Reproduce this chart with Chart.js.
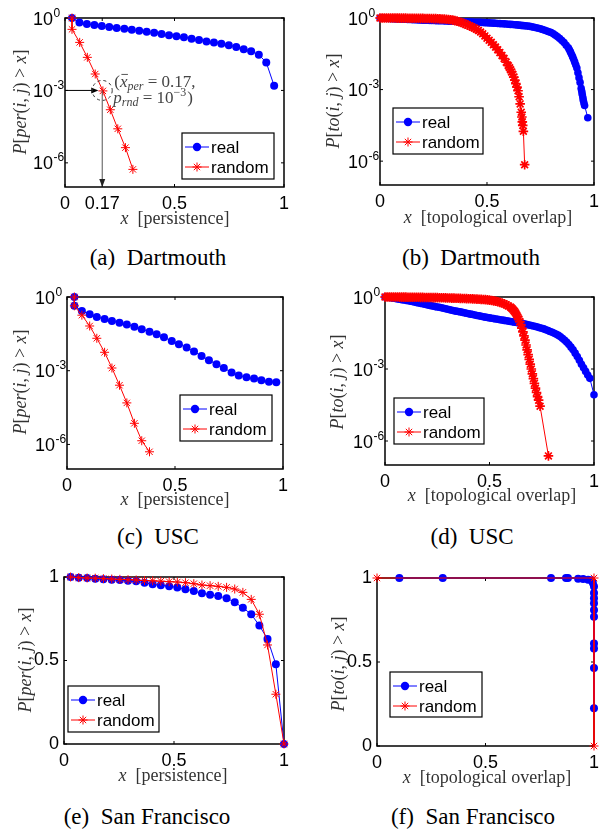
<!DOCTYPE html>
<html><head><meta charset="utf-8">
<script src="https://cdn.jsdelivr.net/npm/chart.js@4/dist/chart.umd.min.js"></script>
<style>
html,body{margin:0;padding:0;background:#fff;}
body{width:605px;height:830px;position:relative;overflow:hidden;}
canvas{position:absolute;}
.cap{position:absolute;font-family:'Liberation Serif',serif;font-size:23px;color:#000;transform:translate(-50%,-50%);white-space:nowrap;}
.xt{position:absolute;font-family:'Liberation Serif',serif;font-size:18px;color:#333;transform:translate(-50%,-50%);white-space:nowrap;}
.yt{position:absolute;font-family:'Liberation Serif',serif;font-size:18px;color:#333;transform:translate(-50%,-50%) rotate(-90deg);white-space:nowrap;}
</style></head>
<body>
<canvas id="ca" width="300" height="230" style="left:0;top:0"></canvas>
<canvas id="cb" width="305" height="230" style="left:300px;top:0"></canvas>
<canvas id="cc" width="300" height="230" style="left:0;top:280px"></canvas>
<canvas id="cd" width="305" height="230" style="left:300px;top:280px"></canvas>
<canvas id="ce" width="300" height="230" style="left:0;top:560px"></canvas>
<canvas id="cf" width="305" height="230" style="left:300px;top:560px"></canvas>

<div class="yt" style="left:20px;top:102px"><i>P</i>[<i>per</i>(<i>i</i>, <i>j</i>) &gt; <i>x</i>]</div>
<div class="yt" style="left:333px;top:101px"><i>P</i>[<i>to</i>(<i>i</i>, <i>j</i>) &gt; <i>x</i>]</div>
<div class="yt" style="left:20px;top:382px"><i>P</i>[<i>per</i>(<i>i</i>, <i>j</i>) &gt; <i>x</i>]</div>
<div class="yt" style="left:337px;top:382px"><i>P</i>[<i>to</i>(<i>i</i>, <i>j</i>) &gt; <i>x</i>]</div>
<div class="yt" style="left:25px;top:660px"><i>P</i>[<i>per</i>(<i>i</i>, <i>j</i>) &gt; <i>x</i>]</div>
<div class="yt" style="left:338px;top:664px"><i>P</i>[<i>to</i>(<i>i</i>, <i>j</i>) &gt; <i>x</i>]</div>

<div class="xt" style="left:175px;top:218px"><i>x</i>&nbsp; [persistence]</div>
<div class="xt" style="left:488px;top:217px"><i>x</i>&nbsp; [topological overlap]</div>
<div class="xt" style="left:175px;top:499px"><i>x</i>&nbsp; [persistence]</div>
<div class="xt" style="left:492px;top:495px"><i>x</i>&nbsp; [topological overlap]</div>
<div class="xt" style="left:173px;top:775px"><i>x</i>&nbsp; [persistence]</div>
<div class="xt" style="left:487px;top:777px"><i>x</i>&nbsp; [topological overlap]</div>

<div class="cap" style="left:158px;top:258px">(a)&nbsp; Dartmouth</div>
<div class="cap" style="left:471px;top:258px">(b)&nbsp; Dartmouth</div>
<div class="cap" style="left:158px;top:537px">(c)&nbsp; USC</div>
<div class="cap" style="left:472px;top:537px">(d)&nbsp; USC</div>
<div class="cap" style="left:147px;top:817px">(e)&nbsp; San Francisco</div>
<div class="cap" style="left:473px;top:817px">(f)&nbsp; San Francisco</div>

<script>
// ---------- tick labels ----------
const xTicksA = [0, 0.17, 0.5, 1];
const xTickLabelsA = ['0', '0.17', '0.5', '1'];
const xTicks = [0, 0.5, 1];
const xTickLabels = ['0', '0.5', '1'];
const logTicks = [1e-6, 1e-3, 1];
const logTickBase = '10';
const logTickExp = ['-6', '-3', '0'];
const linTicks = [0, 0.5, 1];
const linTickLabels = ['0', '0.5', '1'];
const seriesNames = ['real', 'random'];

// ---------- (a) Dartmouth, persistence (y as log10 P) ----------
const aRealX = [0.032,0.066,0.100,0.134,0.168,0.202,0.236,0.271,0.305,0.339,0.373,0.407,0.441,0.475,0.509,0.543,0.578,0.612,0.646,0.680,0.714,0.748,0.782,0.816,0.850,0.885,0.919,0.955];
const aRealLog10 = [0,-0.19,-0.25,-0.29,-0.33,-0.37,-0.41,-0.45,-0.49,-0.53,-0.57,-0.61,-0.66,-0.71,-0.76,-0.80,-0.86,-0.91,-0.97,-1.01,-1.07,-1.13,-1.20,-1.29,-1.38,-1.52,-1.84,-2.81];
const aRandX = [0.032,0.032,0.067,0.102,0.138,0.173,0.207,0.241,0.276,0.310];
const aRandLog10 = [0,-0.47,-1.01,-1.63,-2.32,-3.02,-3.80,-4.59,-5.37,-6.27];
const aMarkX = 0.17;
const aMarkP = 1e-3;

// ---------- (b) Dartmouth, topological overlap ----------
const bRealX = [0,0.01,0.02,0.03,0.04,0.05,0.06,0.07,0.08,0.09,0.10,0.11,0.12,0.13,0.14,0.15,0.16,0.17,0.18,0.19,0.20,0.21,0.22,0.23,0.24,0.25,0.26,0.27,0.28,0.29,0.30,0.31,0.32,0.33,0.34,0.35,0.36,0.37,0.38,0.39,0.40,0.41,0.42,0.43,0.44,0.45,0.46,0.47,0.48,0.49,0.50,0.51,0.52,0.53,0.54,0.55,0.56,0.57,0.58,0.59,0.60,0.61,0.62,0.63,0.64,0.65,0.66,0.67,0.68,0.69,0.70,0.71,0.72,0.73,0.74,0.75,0.76,0.77,0.78,0.79,0.80,0.81,0.82,0.83,0.84,0.85,0.86,0.87,0.88,0.885,0.89,0.895,0.90,0.905,0.91,0.915,0.92,0.925,0.93,0.935,0.94,0.943,0.945,0.948,0.95,0.953,0.956,0.971];
const bRealLog10 = [0,-0.005,-0.01,-0.015,-0.02,-0.025,-0.03,-0.035,-0.04,-0.045,-0.05,-0.052,-0.055,-0.06,-0.065,-0.068,-0.07,-0.075,-0.08,-0.085,-0.09,-0.092,-0.095,-0.098,-0.10,-0.105,-0.11,-0.112,-0.115,-0.118,-0.12,-0.125,-0.13,-0.132,-0.135,-0.138,-0.14,-0.145,-0.15,-0.155,-0.16,-0.162,-0.165,-0.17,-0.175,-0.178,-0.18,-0.185,-0.19,-0.195,-0.20,-0.205,-0.21,-0.215,-0.22,-0.228,-0.235,-0.24,-0.245,-0.252,-0.26,-0.268,-0.275,-0.282,-0.29,-0.30,-0.31,-0.32,-0.33,-0.34,-0.35,-0.37,-0.39,-0.41,-0.43,-0.455,-0.48,-0.515,-0.55,-0.58,-0.61,-0.665,-0.72,-0.79,-0.86,-0.94,-1.03,-1.14,-1.25,-1.33,-1.42,-1.52,-1.62,-1.73,-1.85,-1.97,-2.1,-2.3,-2.5,-2.7,-2.95,-3.08,-3.2,-3.33,-3.45,-3.56,-3.67,-4.18];
const bRandX = [0,0.01,0.02,0.03,0.04,0.05,0.06,0.07,0.08,0.09,0.10,0.11,0.12,0.13,0.14,0.15,0.16,0.17,0.18,0.19,0.20,0.21,0.22,0.23,0.24,0.25,0.26,0.27,0.28,0.29,0.30,0.31,0.32,0.33,0.34,0.35,0.36,0.37,0.38,0.39,0.40,0.41,0.42,0.43,0.44,0.45,0.46,0.47,0.48,0.49,0.50,0.51,0.52,0.53,0.54,0.55,0.56,0.57,0.58,0.59,0.60,0.605,0.61,0.615,0.62,0.625,0.63,0.635,0.64,0.645,0.65,0.655,0.66,0.663,0.665,0.667,0.67,0.676];
const bRandLog10 = [0,0,0,-0.001,-0.002,-0.002,-0.003,-0.003,-0.004,-0.004,-0.005,-0.006,-0.007,-0.008,-0.009,-0.010,-0.011,-0.012,-0.013,-0.015,-0.016,-0.018,-0.019,-0.021,-0.023,-0.025,-0.028,-0.031,-0.035,-0.04,-0.045,-0.052,-0.06,-0.075,-0.09,-0.11,-0.13,-0.16,-0.19,-0.225,-0.26,-0.30,-0.34,-0.38,-0.42,-0.47,-0.52,-0.59,-0.66,-0.75,-0.85,-0.93,-1.02,-1.12,-1.22,-1.33,-1.45,-1.57,-1.7,-1.85,-2.0,-2.08,-2.17,-2.26,-2.36,-2.48,-2.6,-2.75,-2.9,-3.05,-3.3,-3.6,-3.95,-4.15,-4.35,-4.5,-4.75,-6.15];

// ---------- (c) USC, persistence ----------
const cRealX = [0.034,0.034,0.069,0.105,0.138,0.174,0.208,0.243,0.277,0.312,0.346,0.382,0.415,0.449,0.485,0.518,0.554,0.588,0.623,0.657,0.692,0.726,0.762,0.795,0.831,0.866,0.900,0.935,0.969];
const cRealLog10 = [0,-0.36,-0.57,-0.70,-0.81,-0.90,-0.98,-1.05,-1.12,-1.21,-1.31,-1.41,-1.52,-1.64,-1.79,-1.92,-2.06,-2.22,-2.40,-2.57,-2.74,-2.89,-3.07,-3.19,-3.27,-3.32,-3.39,-3.45,-3.47];
const cRandX = [0.034,0.034,0.069,0.105,0.138,0.174,0.208,0.243,0.277,0.312,0.346,0.382];
const cRandLog10 = [0,-0.36,-0.74,-1.18,-1.68,-2.25,-2.89,-3.59,-4.31,-5.14,-5.85,-6.30];

// ---------- (d) USC, topological overlap ----------
const dRealX = [0,0.01,0.02,0.03,0.04,0.05,0.06,0.07,0.08,0.09,0.10,0.11,0.12,0.13,0.14,0.15,0.16,0.17,0.18,0.19,0.20,0.21,0.22,0.23,0.24,0.25,0.26,0.27,0.28,0.29,0.30,0.31,0.32,0.33,0.34,0.35,0.36,0.37,0.38,0.39,0.40,0.41,0.42,0.43,0.44,0.45,0.46,0.47,0.48,0.49,0.50,0.51,0.52,0.53,0.54,0.55,0.56,0.57,0.58,0.59,0.60,0.61,0.62,0.63,0.64,0.65,0.66,0.67,0.68,0.69,0.70,0.71,0.72,0.73,0.74,0.75,0.76,0.77,0.78,0.79,0.80,0.81,0.82,0.83,0.84,0.85,0.86,0.87,0.88,0.89,0.90,0.91,0.92,0.93,0.94,0.95,0.96,0.97,0.98,1.0];
const dRealLog10 = [0,-0.01,-0.02,-0.035,-0.05,-0.065,-0.08,-0.095,-0.11,-0.125,-0.14,-0.155,-0.17,-0.19,-0.21,-0.23,-0.25,-0.265,-0.28,-0.30,-0.32,-0.34,-0.36,-0.38,-0.40,-0.415,-0.43,-0.45,-0.47,-0.49,-0.51,-0.53,-0.55,-0.57,-0.59,-0.605,-0.62,-0.64,-0.66,-0.68,-0.70,-0.715,-0.73,-0.75,-0.77,-0.785,-0.80,-0.82,-0.84,-0.855,-0.87,-0.885,-0.90,-0.915,-0.93,-0.945,-0.96,-0.975,-0.99,-1.005,-1.02,-1.035,-1.05,-1.065,-1.08,-1.095,-1.11,-1.13,-1.15,-1.17,-1.19,-1.21,-1.23,-1.255,-1.28,-1.305,-1.33,-1.365,-1.40,-1.435,-1.47,-1.51,-1.55,-1.60,-1.66,-1.73,-1.80,-1.89,-1.98,-2.09,-2.20,-2.34,-2.48,-2.64,-2.80,-2.95,-3.10,-3.25,-3.39,-4.07];
const dRandX = [0,0.01,0.02,0.03,0.04,0.05,0.06,0.07,0.08,0.09,0.10,0.11,0.12,0.13,0.14,0.15,0.16,0.17,0.18,0.19,0.20,0.21,0.22,0.23,0.24,0.25,0.26,0.27,0.28,0.29,0.30,0.31,0.32,0.33,0.34,0.35,0.36,0.37,0.38,0.39,0.40,0.41,0.42,0.43,0.44,0.45,0.46,0.47,0.48,0.49,0.50,0.51,0.52,0.53,0.54,0.55,0.56,0.57,0.58,0.59,0.60,0.605,0.61,0.615,0.62,0.625,0.63,0.635,0.64,0.645,0.65,0.655,0.66,0.665,0.67,0.675,0.68,0.685,0.69,0.695,0.70,0.705,0.71,0.715,0.72,0.725,0.73,0.735,0.742,0.782];
const dRandLog10 = [0,-0.0005,-0.001,-0.0015,-0.002,-0.003,-0.003,-0.004,-0.005,-0.006,-0.007,-0.008,-0.009,-0.01,-0.011,-0.012,-0.013,-0.015,-0.016,-0.018,-0.019,-0.02,-0.022,-0.024,-0.026,-0.028,-0.03,-0.032,-0.034,-0.037,-0.04,-0.042,-0.045,-0.047,-0.05,-0.053,-0.056,-0.06,-0.063,-0.066,-0.07,-0.074,-0.078,-0.082,-0.087,-0.092,-0.097,-0.103,-0.11,-0.12,-0.13,-0.145,-0.16,-0.18,-0.2,-0.225,-0.25,-0.285,-0.32,-0.37,-0.42,-0.46,-0.5,-0.55,-0.6,-0.67,-0.75,-0.83,-0.92,-1.03,-1.15,-1.3,-1.45,-1.62,-1.8,-2.0,-2.2,-2.4,-2.6,-2.8,-3.0,-3.2,-3.4,-3.6,-3.8,-3.98,-4.15,-4.3,-4.55,-6.62];

// ---------- (e) San Francisco, persistence (linear) ----------
const eX = [0.030,0.067,0.105,0.142,0.179,0.217,0.254,0.291,0.328,0.366,0.403,0.440,0.478,0.515,0.552,0.590,0.627,0.664,0.701,0.739,0.776,0.813,0.851,0.888,0.925,0.963,1.000];
const eReal = [1.0,0.996,0.994,0.99,0.986,0.984,0.982,0.978,0.974,0.966,0.956,0.95,0.945,0.937,0.927,0.916,0.902,0.894,0.886,0.873,0.849,0.816,0.777,0.709,0.629,0.477,0];
const eRand = [1.0,0.996,0.994,0.993,0.99,0.988,0.986,0.984,0.982,0.979,0.977,0.975,0.972,0.970,0.966,0.96,0.952,0.948,0.944,0.938,0.928,0.908,0.866,0.777,0.593,0.298,0];

// ---------- (f) San Francisco, topological overlap (linear) ----------
const fRealX = [0.103,0.303,0.802,0.871,0.88,0.927,0.95,0.973,0.988,0.995,1,1,1,1,1,1,1,1,1,1];
const fReal = [1,1,1,1,1,0.996,0.994,0.99,0.986,0.97,0.95,0.91,0.88,0.85,0.81,0.77,0.61,0.58,0.465,0.224];
const fRandX = [0,1,1];
const fRand = [1,1,0];

// ---------- helpers ----------
const pts = (xs, ys) => xs.map((x, i) => ({x: x, y: ys[i]}));
const fromLog = a => a.map(v => Math.pow(10, v));
const TICKFONT = {family: 'Liberation Sans', size: 18};

function drawStar(ctx, x, y, r) {
  ctx.beginPath();
  for (let k = 0; k < 4; k++) {
    const ang = k * Math.PI / 4;
    ctx.moveTo(x - r * Math.cos(ang), y - r * Math.sin(ang));
    ctx.lineTo(x + r * Math.cos(ang), y + r * Math.sin(ang));
  }
  ctx.stroke();
}

function drawRich(ctx, x, y, parts) {
  let cx = x;
  for (const p of parts) {
    ctx.font = p.f;
    ctx.fillText(p.t, cx, y + (p.dy || 0));
    const w = ctx.measureText(p.t).width;
    if (p.bar) {
      ctx.beginPath(); ctx.moveTo(cx + 1.5, y - 13); ctx.lineTo(cx + w + 0.5, y - 13); ctx.stroke();
    }
    cx += w + (p.sp || 0);
  }
}

const deco = {
  id: 'deco',
  beforeDatasetsDraw(chart, args, opts) {
    const ctx = chart.ctx, a = chart.chartArea, sx = chart.scales.x, sy = chart.scales.y;
    ctx.save();
    ctx.strokeStyle = '#000';
    ctx.lineWidth = 1;
    const tl = 3;
    ctx.beginPath();
    sx.ticks.forEach(t => {
      const p = sx.getPixelForValue(t.value);
      ctx.moveTo(p, a.bottom); ctx.lineTo(p, a.bottom - tl);
      ctx.moveTo(p, a.top); ctx.lineTo(p, a.top + tl);
    });
    sy.ticks.forEach(t => {
      const p = sy.getPixelForValue(t.value);
      ctx.moveTo(a.left, p); ctx.lineTo(a.left + tl, p);
      ctx.moveTo(a.right, p); ctx.lineTo(a.right - tl, p);
    });
    ctx.stroke();
    ctx.lineWidth = 1.5;
    ctx.strokeRect(a.left, a.top, a.right - a.left, a.bottom - a.top);
    if (opts.powLabels) {
      ctx.fillStyle = '#000'; ctx.textBaseline = 'alphabetic';
      sy.ticks.forEach((t, i) => {
        const p = sy.getPixelForValue(t.value);
        ctx.font = '18px "Liberation Sans"'; ctx.textAlign = 'right';
        ctx.fillText(logTickBase, a.left - 12, p + 6.5);
        ctx.font = '12px "Liberation Sans"'; ctx.textAlign = 'left';
        ctx.fillText(opts.powLabels[i], a.left - 11.5, p - 1.5);
      });
    }
    ctx.restore();
  },
  afterDatasetsDraw(chart, args, opts) {
    const ctx = chart.ctx, a = chart.chartArea, sx = chart.scales.x, sy = chart.scales.y;
    ctx.save();
    if (opts.annot) {
      const px = sx.getPixelForValue(opts.annot.x), py = sy.getPixelForValue(opts.annot.p);
      ctx.strokeStyle = '#000'; ctx.fillStyle = '#000'; ctx.lineWidth = 1;
      ctx.beginPath(); ctx.moveTo(a.left, py); ctx.lineTo(px - 5, py); ctx.stroke();
      ctx.beginPath(); ctx.moveTo(px - 4, py); ctx.lineTo(px - 11, py - 3); ctx.lineTo(px - 11, py + 3); ctx.closePath(); ctx.fill();
      ctx.strokeStyle = '#555'; ctx.fillStyle = '#222';
      ctx.beginPath(); ctx.moveTo(px, py); ctx.lineTo(px, a.bottom - 2); ctx.stroke();
      ctx.beginPath(); ctx.moveTo(px, a.bottom); ctx.lineTo(px - 3, a.bottom - 8); ctx.lineTo(px + 3, a.bottom - 8); ctx.closePath(); ctx.fill();
      ctx.strokeStyle = '#333'; ctx.setLineDash([3, 3]);
      ctx.beginPath(); ctx.arc(px, py, 10, 0, Math.PI * 2); ctx.stroke();
      ctx.setLineDash([]);
      ctx.fillStyle = '#444'; ctx.strokeStyle = '#444'; ctx.lineWidth = 0.9;
      ctx.textBaseline = 'alphabetic'; ctx.textAlign = 'left';
      const N = '17px "Liberation Serif"', I = 'italic 17px "Liberation Serif"', S = 'italic 12px "Liberation Serif"', SN = '12px "Liberation Serif"';
      drawRich(ctx, px + 12, py - 3, [
        {t: '(', f: N}, {t: 'x', f: I, bar: true}, {t: 'per', f: S, dy: 3}, {t: ' = 0.17,', f: N}
      ]);
      drawRich(ctx, px + 11, py + 13, [
        {t: 'p', f: I}, {t: 'rnd', f: S, dy: 3}, {t: ' = 10', f: N}, {t: '\u22123', f: SN, dy: -7, sp: 1}, {t: ')', f: N}
      ]);
    }
    if (opts.legend) {
      const L = opts.legend;
      ctx.fillStyle = '#fff'; ctx.fillRect(L.x, L.y, L.w, L.h);
      ctx.strokeStyle = '#000'; ctx.lineWidth = 1.2; ctx.strokeRect(L.x, L.y, L.w, L.h);
      chart.data.datasets.forEach((ds, i) => {
        const y = L.y + 14 + i * 20;
        ctx.strokeStyle = ds.borderColor; ctx.lineWidth = 1;
        ctx.beginPath(); ctx.moveTo(L.x + 3, y); ctx.lineTo(L.x + 27, y); ctx.stroke();
        if (ds.pointStyle === 'circle') {
          ctx.fillStyle = ds.borderColor; ctx.beginPath(); ctx.arc(L.x + 15, y, 4.2, 0, Math.PI * 2); ctx.fill();
        } else {
          drawStar(ctx, L.x + 15, y, 4.5);
        }
        ctx.fillStyle = '#000'; ctx.font = '17px "Liberation Sans"'; ctx.textBaseline = 'middle'; ctx.textAlign = 'left';
        ctx.fillText(ds.label, L.x + 29, y + 1);
      });
    }
    ctx.restore();
  }
};

function makeChart(id, o) {
  const W = o.W, H = o.H;
  return new Chart(document.getElementById(id), {
    type: 'scatter',
    data: {
      datasets: [
        {label: seriesNames[0], data: pts(o.rx, o.ry), showLine: true, borderColor: '#0000ff', borderWidth: 1,
         pointStyle: 'circle', pointRadius: o.rr || 4, pointBackgroundColor: '#0000ff', pointBorderColor: '#0000ff',
         pointBorderWidth: 0, clip: false, order: 2},
        {label: seriesNames[1], data: pts(o.qx, o.qy), showLine: true, borderColor: '#ff0000', borderWidth: 1,
         pointStyle: 'star', pointRadius: o.qr || 4.5, pointBackgroundColor: '#ff0000', pointBorderColor: '#ff0000',
         pointBorderWidth: o.qw || 1, clip: false, order: 1}
      ]
    },
    options: {
      responsive: false, animation: false, events: [],
      layout: {padding: {left: 0, top: o.T, right: W - o.R, bottom: 0}},
      plugins: {legend: {display: false}, tooltip: {enabled: false},
                deco: {legend: o.legend, annot: o.annot, powLabels: o.log ? logTickExp : null}},
      scales: {
        x: {type: 'linear', min: 0, max: 1,
            grid: {display: false, drawTicks: false}, border: {display: false},
            ticks: {font: TICKFONT, color: '#000', padding: 6, maxRotation: 0, autoSkip: false,
                    callback: (v) => o.xl[o.xt.indexOf(v)] ?? ''},
            afterBuildTicks: s => { s.ticks = o.xt.map(v => ({value: v})); },
            afterFit: s => { s.height = H - o.B; }},
        y: {type: o.log ? 'logarithmic' : 'linear', min: o.log ? 1e-7 : 0, max: 1,
            grid: {display: false, drawTicks: false}, border: {display: false},
            ticks: {display: !o.log, font: TICKFONT, color: '#000', padding: 5, autoSkip: false,
                    callback: (v) => { const i = o.yt.findIndex(t => Math.abs(t - v) < 1e-12); return i >= 0 ? o.yl[i] : ''; }},
            afterBuildTicks: s => { s.ticks = o.yt.map(v => ({value: v})); },
            afterFit: s => { s.width = o.L; }}
      }
    },
    plugins: [deco]
  });
}

makeChart('ca', {W: 300, H: 230, L: 65, R: 284, T: 18, B: 187, log: true,
  rx: aRealX, ry: fromLog(aRealLog10), qx: aRandX, qy: fromLog(aRandLog10),
  xt: xTicksA, xl: xTickLabelsA, yt: logTicks, yl: logTickExp,
  legend: {x: 182, y: 133, w: 92, h: 46}, annot: {x: aMarkX, p: aMarkP}});
makeChart('cb', {W: 305, H: 230, L: 80, R: 298, T: 18, B: 185, log: true, rr: 3.8, qr: 4.8, qw: 1.7,
  rx: bRealX, ry: fromLog(bRealLog10), qx: bRandX, qy: fromLog(bRandLog10),
  xt: xTicks, xl: xTickLabels, yt: logTicks, yl: logTickExp,
  legend: {x: 93, y: 108, w: 90, h: 46}});
makeChart('cc', {W: 300, H: 230, L: 67, R: 283, T: 17, B: 189, log: true,
  rx: cRealX, ry: fromLog(cRealLog10), qx: cRandX, qy: fromLog(cRandLog10),
  xt: xTicks, xl: xTickLabels, yt: logTicks, yl: logTickExp,
  legend: {x: 180, y: 115, w: 92, h: 46}});
makeChart('cd', {W: 305, H: 230, L: 85, R: 296, T: 17, B: 185, log: true, rr: 3.8, qr: 4.8, qw: 1.7,
  rx: dRealX, ry: fromLog(dRealLog10), qx: dRandX, qy: fromLog(dRandLog10),
  xt: xTicks, xl: xTickLabels, yt: logTicks, yl: logTickExp,
  legend: {x: 94, y: 118, w: 90, h: 46}});
makeChart('ce', {W: 300, H: 230, L: 64, R: 284, T: 17, B: 184, log: false,
  rx: eX, ry: eReal, qx: eX, qy: eRand,
  xt: xTicks, xl: xTickLabels, yt: linTicks, yl: linTickLabels,
  legend: {x: 68, y: 126, w: 91, h: 46}});
makeChart('cf', {W: 305, H: 230, L: 77, R: 298, T: 18, B: 186, log: false,
  rx: fRealX, ry: fReal, qx: fRandX, qy: fRand,
  xt: xTicks, xl: xTickLabels, yt: linTicks, yl: linTickLabels,
  legend: {x: 90, y: 112, w: 92, h: 45}});
</script>
</body></html>
